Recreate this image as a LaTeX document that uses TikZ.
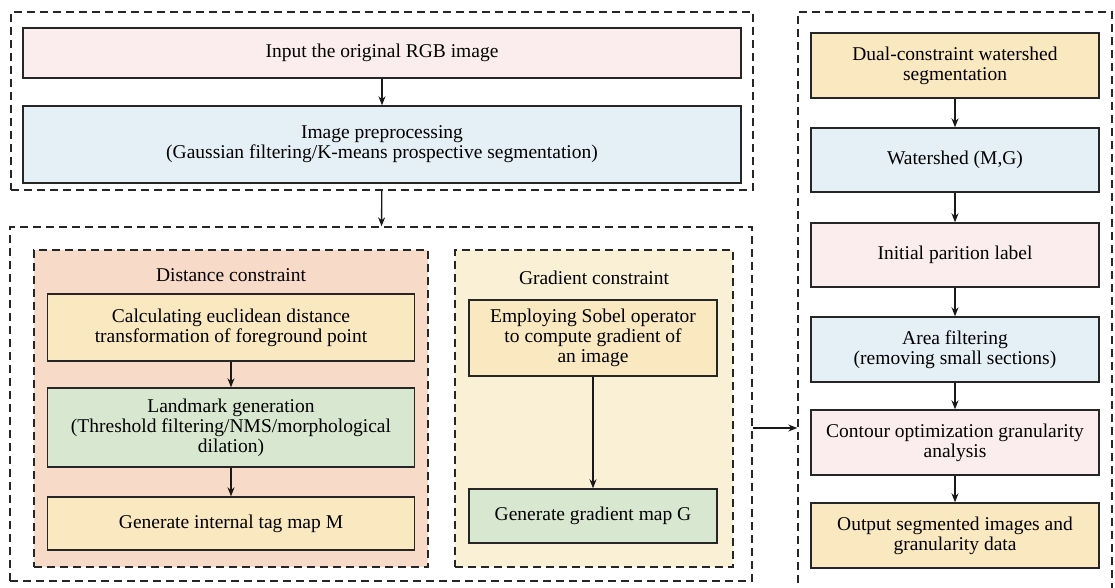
\documentclass[tikz,border=0pt]{standalone}
\usepackage{fontspec}
\setmainfont{Liberation Serif}
\usepackage{tikz}
\usetikzlibrary{arrows.meta}

\definecolor{boxpink}{RGB}{251,237,237}
\definecolor{boxblue}{RGB}{229,239,246}
\definecolor{boxyellow}{RGB}{250,232,192}
\definecolor{boxgreen}{RGB}{216,232,208}
\definecolor{grpsalmon}{RGB}{248,218,200}
\definecolor{grpcream}{RGB}{250,240,213}

\begin{document}
\begin{tikzpicture}[x=1pt,y=-1pt,
    font=\fontsize{19.5}{20}\selectfont,
    stage/.style={draw=black!85,line width=1.4pt,align=center,inner sep=0pt},
    group/.style={draw=black!85,line width=1.4pt,dash pattern=on 8pt off 5pt,inner sep=0pt},
    flow/.style={-{Stealth[length=9pt,width=7pt]},line width=1.3pt,black!90}]
  \useasboundingbox (0,0) rectangle (1115,588);

  % containers
  \node[group,minimum width=742,minimum height=178] (topgrp) at (382,101) {};
  \node[group,minimum width=742,minimum height=354] (lowgrp) at (381,404) {};
  \node[group,fill=grpsalmon,minimum width=394,minimum height=317] (distgrp) at (231,408.5) {};
  \node[group,fill=grpcream,minimum width=278,minimum height=317] (gradgrp) at (594,408.5) {};
  \node[group,minimum width=314,minimum height=590] (rightgrp) at (955,307) {};

  % preprocessing
  \node[stage,fill=boxpink,minimum width=718,minimum height=50] (input) at (382,53) {Input the original RGB image};
  \node[stage,fill=boxblue,minimum width=718,minimum height=77] (prep) at (382,144.5)
    {Image preprocessing\\(Gaussian filtering/K-means prospective segmentation)};

  % distance constraint
  \node (disttitle) at (231,275) {Distance constraint};
  \node[stage,fill=boxyellow,minimum width=367,minimum height=67] (calc) at (231,327.5)
    {Calculating euclidean distance\\transformation of foreground point};
  \node[stage,fill=boxgreen,minimum width=367,minimum height=79] (landmark) at (231,427.5)
    {Landmark generation\\(Threshold filtering/NMS/morphological\\dilation)};
  \node[stage,fill=boxyellow,minimum width=367,minimum height=53] (genM) at (231,523.5) {Generate internal tag map M};

  % gradient constraint
  \node (gradtitle) at (594,278) {Gradient constraint};
  \node[stage,fill=boxyellow,minimum width=248,minimum height=76] (sobel) at (593,338)
    {Employing Sobel operator\\to compute gradient of\\an image};
  \node[stage,fill=boxgreen,minimum width=248,minimum height=54] (genG) at (593,516) {Generate gradient map G};

  % segmentation
  \node[stage,fill=boxyellow,minimum width=288,minimum height=65] (dual) at (955,65.5)
    {Dual-constraint watershed\\segmentation};
  \node[stage,fill=boxblue,minimum width=288,minimum height=64] (water) at (955,160) {Watershed (M,G)};
  \node[stage,fill=boxpink,minimum width=288,minimum height=64] (init) at (955,255) {Initial parition label};
  \node[stage,fill=boxblue,minimum width=288,minimum height=65] (area) at (955,349.5)
    {Area filtering\\(removing small sections)};
  \node[stage,fill=boxpink,minimum width=288,minimum height=65] (contour) at (955,442.5)
    {Contour optimization granularity\\analysis};
  \node[stage,fill=boxyellow,minimum width=288,minimum height=65] (output) at (955,535.5)
    {Output segmented images and\\granularity data};

  % arrows
  \draw[flow] (input) -- (prep);
  \draw[flow] (topgrp) -- (lowgrp);
  \draw[flow] (calc) -- (landmark);
  \draw[flow] (landmark) -- (genM);
  \draw[flow] (sobel) -- (genG);
  \foreach \a/\b in {dual/water,water/init,init/area,area/contour,contour/output}
    \draw[flow] (\a) -- (\b);
  \coordinate (joint) at (0,428);
  \draw[flow] (lowgrp.east |- joint) -- (rightgrp.west |- joint);
\end{tikzpicture}
\end{document}
